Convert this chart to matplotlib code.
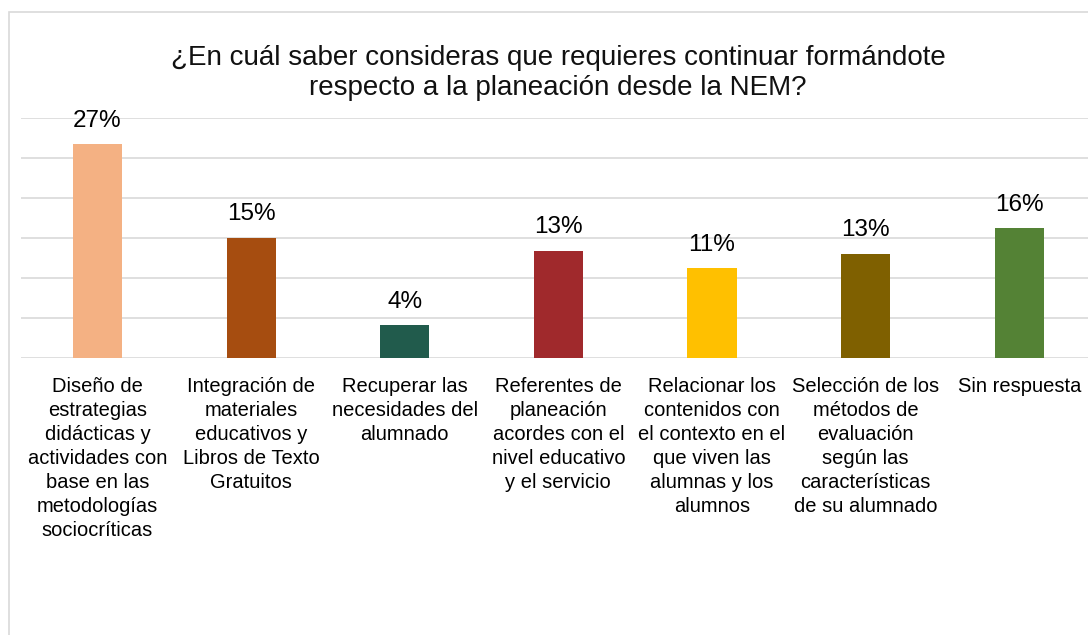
import matplotlib
matplotlib.use("Agg")
import matplotlib.pyplot as plt
from matplotlib.patches import Rectangle

plt.rcParams['font.family'] = ['Liberation Sans', 'DejaVu Sans']

categories = [
    "Diseño de\nestrategias\ndidácticas y\nactividades con\nbase en las\nmetodologías\nsociocríticas",
    "Integración de\nmateriales\neducativos y\nLibros de Texto\nGratuitos",
    "Recuperar las\nnecesidades del\nalumnado",
    "Referentes de\nplaneación\nacordes con el\nnivel educativo\ny el servicio",
    "Relacionar los\ncontenidos con\nel contexto en el\nque viven las\nalumnas y los\nalumnos",
    "Selección de los\nmétodos de\nevaluación\nsegún las\ncaracterísticas\nde su alumnado",
    "Sin respuesta",
]
values = [26.7, 15.0, 4.1, 13.4, 11.2, 13.0, 16.2]
labels = ["27%", "15%", "4%", "13%", "11%", "13%", "16%"]
colors = ["#F4B183", "#A64D10", "#215B4C", "#A0292C", "#FFC000", "#7F6000", "#548235"]

fig = plt.figure(figsize=(10.88, 6.35), dpi=100)

# chart frame (right and bottom edges fall outside the picture)
fig.patches.append(Rectangle((8.5 / 1088, -0.1), 1.2, (635 - 12) / 635 + 0.1,
                             transform=fig.transFigure, fill=False,
                             edgecolor="#D9D9D9", linewidth=1.2))

ax = fig.add_axes([20.7 / 1088, 277 / 635, (1096 - 20.7) / 1088, 240 / 635])
x = list(range(len(values)))
bars = ax.bar(x, values, width=0.32, color=colors, zorder=3)
ax.set_xlim(-0.5, len(values) - 0.5)
ax.set_ylim(0, 30)
ax.set_yticks([0, 5, 10, 15, 20, 25, 30])
ax.yaxis.grid(True, color="#D9D9D9", linewidth=1.2, zorder=0)
ax.tick_params(axis="y", left=False, labelleft=False)
ax.tick_params(axis="x", bottom=False, pad=10)
ax.set_xticks(x)
ax.set_xticklabels(categories, fontsize=14.5, linespacing=1.34, va="top", ha="center")
for s in ax.spines.values():
    s.set_visible(False)

for rect, lab in zip(bars, labels):
    ax.annotate(lab, (rect.get_x() + rect.get_width() / 2, rect.get_height()),
                xytext=(0, 9), textcoords="offset points",
                ha="center", va="bottom", fontsize=17.5, color="#000000")

fig.text(558 / 1088, 1 - 73 / 635,
         "¿En cuál saber consideras que requieres continuar formándote\nrespecto a la planeación desde la NEM?",
         ha="center", va="center", fontsize=20, linespacing=1.22, color="#111111")

fig.savefig("out.png", dpi=100)
